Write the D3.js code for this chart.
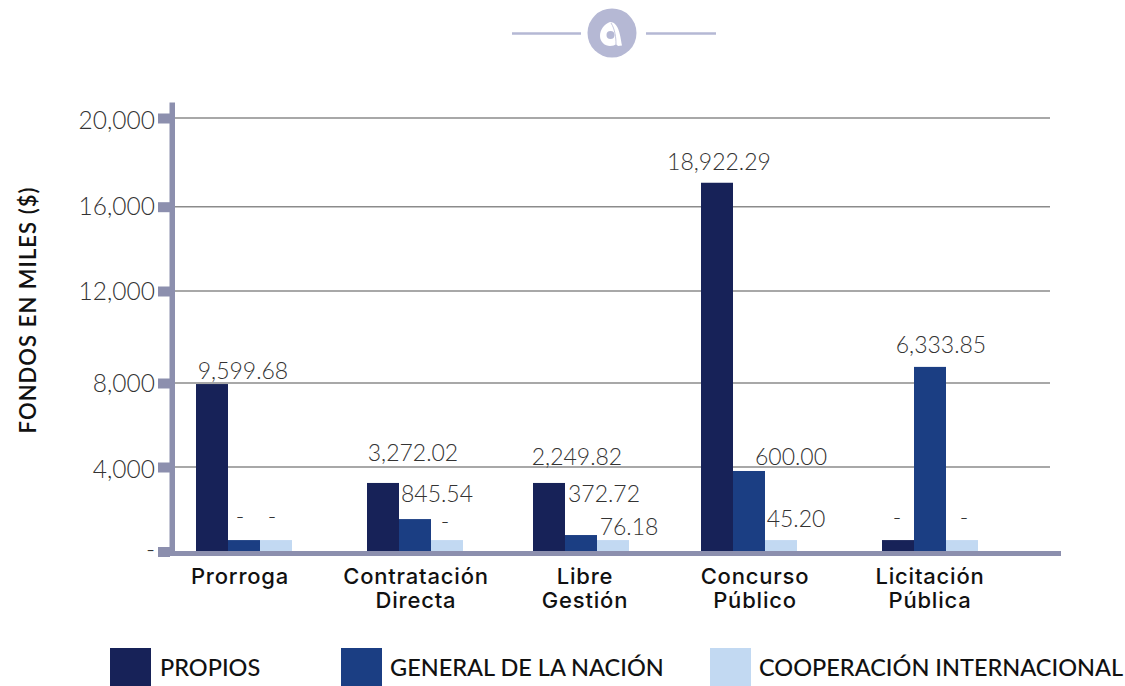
<!DOCTYPE html>
<html><head><meta charset="utf-8">
<script src="https://cdn.jsdelivr.net/npm/d3@7/dist/d3.min.js"></script>
<style>html,body{margin:0;background:#fff}svg{display:block}</style></head>
<body><svg id="c" width="1125" height="686"></svg>
<script>
const categories = [["Prorroga"],["Contratación","Directa"],["Libre","Gestión"],["Concurso","Público"],["Licitación","Pública"]];
const seriesNames = ["PROPIOS","GENERAL DE LA NACIÓN","COOPERACIÓN INTERNACIONAL"];
const propios = [7950,3240,3240,17080,520];
const generalNacion = [520,1520,760,3810,8700];
const cooperacion = [520,520,520,520,520];
const propiosLabels = ["9,599.68","3,272.02","2,249.82","18,922.29","-"];
const generalLabels = ["-","845.54","372.72","600.00","6,333.85"];
const cooperacionLabels = ["-","-","76.18","45.20","-"];
const yTicks = [0,4000,8000,12000,16000,20000];
const yTickLabels = ["-","4,000","8,000","12,000","16,000","20,000"];

// layout (the source axis is unevenly spaced, so the scale is piecewise)
const colors = ["#172258","#1b3e83","#c2d9f2"];
const axisColor = "#8c8fae";
const groupLeft = [196,367,533,701,882];
const yRange = [551,467,383,291,206.7,118];
const tickLabelDy = [7,11,9,9,8,11];
// label offsets from [bar centre, bar top] per series then category
const labelDx = [[31,30,28,2,-1],[-4,22,23,42,11],[-4,-2,16,15,2]];
const labelDy = [[5,22,18,13,14],[15,17,33,6,14],[15,10,5,13,14]];

const svg = d3.select("#c");
const y = d3.scaleLinear().domain(yTicks).range(yRange);
const xGroup = d3.scaleOrdinal().domain(d3.range(5)).range(groupLeft);
const xSeries = d3.scaleBand().domain(d3.range(3)).range([0,96]);
const series = [propios,generalNacion,cooperacion];
const seriesLabels = [propiosLabels,generalLabels,cooperacionLabels];
const light = "Lato, sans-serif";

// logo
const logo = svg.append("g");
logo.selectAll("line").data([[512,581],[646,716]]).join("line")
  .attr("x1",d=>d[0]).attr("x2",d=>d[1]).attr("y1",33.5).attr("y2",33.5)
  .attr("stroke","#b5b8d4").attr("stroke-width",2.5);
logo.append("circle").attr("cx",612).attr("cy",33).attr("r",24.5).attr("fill","#b5b8d4");
logo.append("path").attr("fill","#fff")
  .attr("d","M622 45.5 C620 33 618 22 610 22 C604 24 600 30 600 36 C600 42 605 46 610 46 C613 46 615 45 616 44 L618 46 Z");
logo.append("circle").attr("cx",610.5).attr("cy",35).attr("r",4).attr("fill","#b5b8d4");
logo.append("path").attr("fill","none").attr("stroke","#b5b8d4").attr("stroke-width",0.8)
  .attr("d","M611 23 C615 29 616 38 616 44");

// grid
svg.append("g").selectAll("line").data(yTicks.slice(1)).join("line")
  .attr("x1",175).attr("x2",1050).attr("y1",d=>y(d)).attr("y2",d=>y(d))
  .attr("stroke","#8b8b8b").attr("stroke-width",1.4);

// bars
series.forEach((vals,s)=>{
  svg.append("g").selectAll("rect").data(vals).join("rect")
    .attr("x",(d,i)=>xGroup(i)+xSeries(s)).attr("width",xSeries.bandwidth())
    .attr("y",d=>y(d)).attr("height",d=>y(0)-y(d)).attr("fill",colors[s]);
});

// axes
const axis = svg.append("g").attr("fill",axisColor);
axis.append("rect").attr("x",169.5).attr("y",102.5).attr("width",5.5).attr("height",453.5);
axis.append("rect").attr("x",169.5).attr("y",551).attr("width",891.5).attr("height",5);
axis.selectAll(".t").data(yTicks).join("rect").attr("class","t")
  .attr("x",158).attr("width",12).attr("y",d=>d===0?547:y(d)-4.5).attr("height",10);

svg.append("g").selectAll("text").data(yTicks).join("text")
  .attr("x",155).attr("y",(d,i)=>y(d)+tickLabelDy[i])
  .attr("text-anchor","end").attr("font-family",light).attr("font-weight",300)
  .attr("font-size",24.5).attr("fill","#333")
  .text((d,i)=>yTickLabels[i]);

svg.append("text").attr("transform","translate(36,310) rotate(-90)")
  .attr("text-anchor","middle").attr("font-family",light).attr("font-weight",600)
  .attr("font-size",22).attr("letter-spacing",1.05).attr("fill","#111").text("FONDOS EN MILES ($)");

// data labels
series.forEach((vals,s)=>{
  svg.append("g").selectAll("text").data(vals).join("text")
    .attr("x",(d,i)=>xGroup(i)+xSeries(s)+xSeries.bandwidth()/2+labelDx[s][i])
    .attr("y",(d,i)=>y(d)-labelDy[s][i])
    .attr("text-anchor","middle").attr("font-family",light).attr("font-weight",300)
    .attr("font-size",23).attr("fill","#333")
    .text((d,i)=>seriesLabels[s][i]);
});

// categories
const labelCentre = [240,416,585,755,930];
const cat = svg.append("g").selectAll("g").data(categories).join("g");
cat.selectAll("text").data((d,i)=>d.map(t=>({t,i}))).join("text")
  .attr("x",d=>labelCentre[d.i]).attr("y",(d,j)=>584+j*24)
  .attr("text-anchor","middle").attr("font-family","Inter, sans-serif").attr("font-weight",500)
  .attr("font-size",22).attr("letter-spacing",0.8).attr("fill","#111").text(d=>d.t);

// legend
const legendSwatch = [110,341,710], legendText = [160,390,759];
const leg = svg.append("g").selectAll("g").data(seriesNames).join("g");
leg.append("rect").attr("x",(d,i)=>legendSwatch[i]).attr("y",648).attr("width",41).attr("height",38)
  .attr("fill",(d,i)=>colors[i]);
leg.append("text").attr("x",(d,i)=>legendText[i]).attr("y",676)
  .attr("font-family",light).attr("font-weight",500).attr("font-size",23.5).attr("fill","#111").text(d=>d);
</script></body></html>
